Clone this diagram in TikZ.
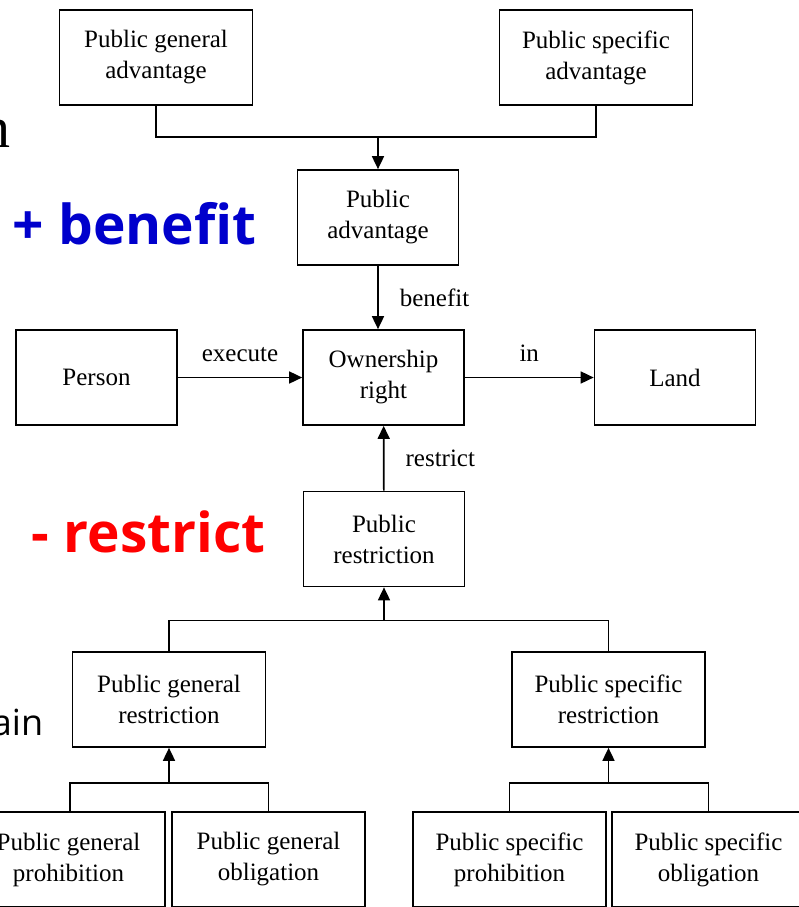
\documentclass[tikz,border=0pt]{standalone}
\usepackage{fontspec}
\setmainfont{Liberation Serif}
\newfontfamily\tagfont{Open Sans}
\usetikzlibrary{positioning, arrows.meta}
\definecolor{plusblue}{RGB}{0,0,204}
\definecolor{minusred}{RGB}{255,0,0}

\begin{document}
\begin{tikzpicture}[x=1pt, y=1pt, line width=1.7pt,
    >={Triangle[length=13pt, width=12pt]},
    font=\fontsize{25}{31}\selectfont,
    box/.style={draw, align=center, inner sep=2pt, minimum height=95pt},
    wide/.style={box, minimum width=193pt},
    narrow/.style={box, minimum width=161pt},
    lbl/.style={inner sep=0pt},
    tag/.style={inner sep=0pt, anchor=base west,
                font=\tagfont\bfseries\fontsize{55}{60}\selectfont}]

    \clip (0,0) rectangle (799,-907);

    % --- Advantage side ---
    \node[wide]   (pga)  at (156, -57.5) {Public general\\advantage};
    \node[wide]   (psa)  at (596, -57.5) {Public specific\\advantage};
    \node[narrow] (padv) at (378, -217.5) {Public\\advantage};

    % --- Core ---
    \node[narrow] (own)    at (383.5, -377.5) {Ownership\\right};
    \node[narrow] (person) at (96.5, -377.5)  {Person};
    \node[narrow] (land)   at (675, -377.5)   {Land};

    % --- Restriction side ---
    \node[narrow] (pres) at (384, -539)   {Public\\restriction};
    \node[wide]   (pgr)  at (169, -699.5) {Public general\\restriction};
    \node[wide]   (psr)  at (608.5, -699.5) {Public specific\\restriction};
    \node[wide]   (pgp)  at (68.5, -859.5)  {Public general\\prohibition};
    \node[wide]   (pgo)  at (268.5, -859.5) {Public general\\obligation};
    \node[wide]   (psp)  at (509.5, -859.5) {Public specific\\prohibition};
    \node[wide]   (pso)  at (708.5, -859.5) {Public specific\\obligation};

    % --- Side tags ---
    \node[tag, text=plusblue] (plus)  at (12, -244) {+ benefit};
    \node[tag, text=minusred] (minus) at (31, -552) {- restrict};
    \node[inner sep=0pt, anchor=base east, font=\fontsize{58}{60}\selectfont]
      (restn) at (11, -147) {n};
    \node[inner sep=0pt, anchor=base east, font=\tagfont\fontsize{36}{40}\selectfont]
      (restain) at (44, -735) {ain};

    % --- Fork points ---
    \coordinate (advfork) at ([yshift=32pt]padv.north);
    \coordinate (resfork) at ([yshift=-33pt]pres.south);
    \coordinate (genfork) at ([yshift=-35pt]pgr.south);
    \coordinate (spcfork) at ([yshift=-35pt]psr.south);

    % --- Edges ---
    \draw (pga.south) |- (advfork) -| (psa.south);
    \draw[->] (advfork) -- (padv.north);
    \draw[->] (padv.south) -- node[lbl, right=21pt] {benefit} (padv.south |- own.north);
    \draw[->] (person) -- node[lbl, above=15pt] {execute} (own);
    \draw[->] (own) -- node[lbl, above=15pt] {in} (land);
    \draw[->] (pres) -- node[lbl, right=21pt] {restrict} (own);

    \draw (pgr.north) |- (resfork) -| (psr.north);
    \draw[->] (resfork) -- (pres.south);
    \draw ([xshift=1.5pt]pgp.north) |- (genfork) -| (pgo.north);
    \draw[->] (genfork) -- (pgr.south);
    \draw (psp.north) |- (spcfork) -| (pso.north);
    \draw[->] (spcfork) -- (psr.south);
  \end{tikzpicture}
\end{document}
